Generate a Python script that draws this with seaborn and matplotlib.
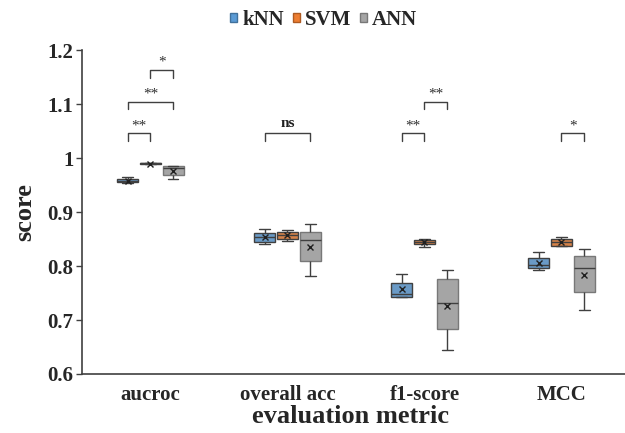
import matplotlib
matplotlib.use('Agg')
import matplotlib.pyplot as plt
from matplotlib.patches import Patch
from matplotlib.ticker import FuncFormatter
from matplotlib.colors import to_rgba
import seaborn as sns
import pandas as pd

# Data (5 folds per model and metric)
metrics = ['aucroc', 'overall acc', 'f1-score', 'MCC']
models = ['kNN', 'SVM', 'ANN']
knn = {
    'aucroc': [0.953, 0.955, 0.957, 0.962, 0.964],
    'overall acc': [0.841, 0.845, 0.854, 0.861, 0.868],
    'f1-score': [0.743, 0.743, 0.748, 0.769, 0.785],
    'MCC': [0.793, 0.796, 0.802, 0.815, 0.826],
}
svm = {
    'aucroc': [0.9885, 0.989, 0.990, 0.990, 0.9905],
    'overall acc': [0.846, 0.850, 0.858, 0.863, 0.867],
    'f1-score': [0.835, 0.841, 0.845, 0.848, 0.850],
    'MCC': [0.837, 0.837, 0.845, 0.850, 0.854],
}
ann = {
    'aucroc': [0.961, 0.968, 0.982, 0.985, 0.986],
    'overall acc': [0.781, 0.810, 0.848, 0.863, 0.878],
    'f1-score': [0.644, 0.683, 0.731, 0.776, 0.792],
    'MCC': [0.719, 0.752, 0.796, 0.818, 0.832],
}
# significance brackets: (metric, model a, model b, level, label)
sig = [
    ('aucroc', 'kNN', 'SVM', 1.046, '**'),
    ('aucroc', 'kNN', 'ANN', 1.104, '**'),
    ('aucroc', 'SVM', 'ANN', 1.163, '*'),
    ('overall acc', 'kNN', 'ANN', 1.046, 'ns'),
    ('f1-score', 'kNN', 'SVM', 1.046, '**'),
    ('f1-score', 'SVM', 'ANN', 1.104, '**'),
    ('MCC', 'SVM', 'ANN', 1.046, '*'),
]

rows = []
for name, d in zip(models, [knn, svm, ann]):
    for m in metrics:
        for v in d[m]:
            rows.append({'metric': m, 'model': name, 'score': v})
df = pd.DataFrame(rows)

fills = {'kNN': '#5B9BD5', 'SVM': '#ED7D31', 'ANN': '#A5A5A5'}
edges = {'kNN': '#41719C', 'SVM': '#AE5A21', 'ANN': '#787878'}

sns.set_style('ticks')
plt.rcParams['font.family'] = ['Liberation Serif', 'DejaVu Serif']
plt.rcParams['font.weight'] = 'bold'

fig = plt.figure(figsize=(6.25, 4.33), dpi=100)
ax = fig.add_axes([0.131, 0.1363, 0.877, 0.748])

box_w = 0.5
sns.boxplot(data=df, x='metric', y='score', hue='model', order=metrics,
            hue_order=models, palette=fills, width=box_w, gap=0.08,
            linecolor='#404040', linewidth=1.0, showmeans=True,
            meanprops=dict(marker='x', markeredgecolor='#202020',
                           markerfacecolor='#202020', markersize=5,
                           markeredgewidth=1.0),
            legend=False, ax=ax)

# darker outline per model, like the original
for p in ax.patches:
    fc = p.get_facecolor()
    for k, c in fills.items():
        if all(abs(a - b) < 0.02 for a, b in zip(fc[:3], to_rgba(c)[:3])):
            p.set_edgecolor(edges[k])

ax.set_xlim(-0.5, 3.5)
ax.set_ylim(0.6, 1.2)
ax.set_yticks([0.6, 0.7, 0.8, 0.9, 1.0, 1.1, 1.2])
ax.yaxis.set_major_formatter(FuncFormatter(lambda v, p: f'{v:g}'))
ax.tick_params(axis='y', labelsize=15, length=4, width=1, color='#404040', pad=2)
ax.tick_params(axis='x', labelsize=15, length=0, pad=8)
for lab in ax.get_xticklabels() + ax.get_yticklabels():
    lab.set_fontweight('bold')
sns.despine(ax=ax)
for s in ['left', 'bottom']:
    ax.spines[s].set_color('#404040')
    ax.spines[s].set_linewidth(1.2)

ax.set_xlabel('evaluation metric', fontsize=19, fontweight='bold')
ax.set_ylabel('score', fontsize=19, fontweight='bold', labelpad=8)
ax.xaxis.set_label_coords(0.49, -0.097)

# significance brackets
slot = box_w / len(models)
def xpos(metric, model):
    return metrics.index(metric) + (models.index(model) - 1) * slot

for m, a, b, lvl, txt in sig:
    x1, x2 = xpos(m, a), xpos(m, b)
    ax.plot([x1, x1, x2, x2], [lvl - 0.014, lvl, lvl, lvl - 0.014],
            color='#404040', lw=1.0, clip_on=False)
    if txt == 'ns':
        ax.text((x1 + x2) / 2, lvl + 0.006, txt, ha='center', va='bottom',
                fontsize=11, fontweight='bold', color='#202020')
    else:
        ax.text((x1 + x2) / 2, lvl + 0.002, txt, ha='center', va='bottom',
                fontsize=11, fontweight='normal', color='#303030')

handles = [Patch(facecolor=fills[k], edgecolor=edges[k], label=k) for k in models]
leg = fig.legend(handles=handles, loc='center', bbox_to_anchor=(0.518, 0.954),
                 ncol=3, frameon=False, handlelength=0.35, handleheight=0.35,
                 handletextpad=0.25, columnspacing=0.4,
                 prop={'family': 'Liberation Serif', 'weight': 'bold', 'size': 15})

fig.savefig('out.png', dpi=100)
